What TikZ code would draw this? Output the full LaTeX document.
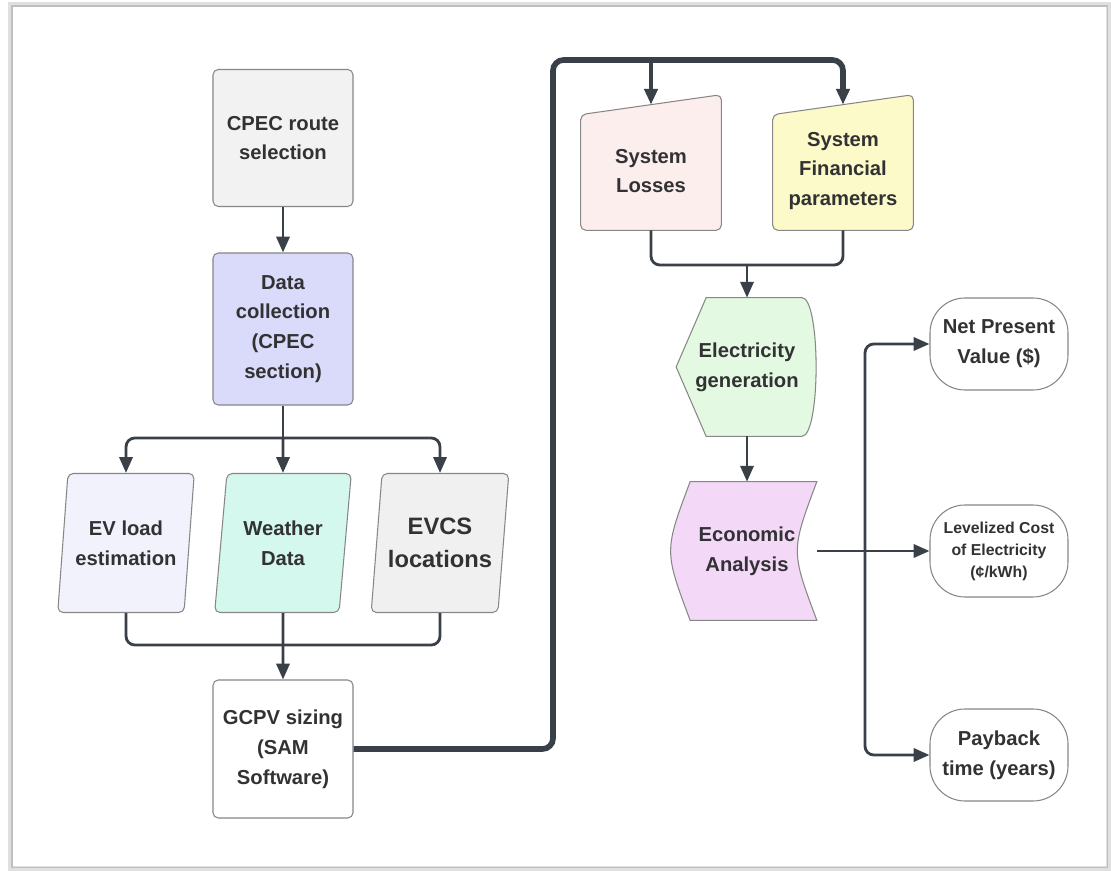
\documentclass[tikz,border=0pt]{standalone}
\usepackage{fontspec}
\setmainfont{Liberation Sans}
\usetikzlibrary{shapes,arrows.meta,positioning,calc,backgrounds}

\definecolor{linegray}{RGB}{58,64,72}
\definecolor{edgegray}{RGB}{135,135,135}
\definecolor{textgray}{RGB}{50,50,52}
\definecolor{routefill}{RGB}{242,242,242}
\definecolor{datafill}{RGB}{218,218,250}
\definecolor{evfill}{RGB}{242,242,253}
\definecolor{weatherfill}{RGB}{212,247,238}
\definecolor{evcsfill}{RGB}{240,240,240}
\definecolor{lossfill}{RGB}{253,238,238}
\definecolor{finfill}{RGB}{252,250,200}
\definecolor{elecfill}{RGB}{228,249,225}
\definecolor{econfill}{RGB}{243,216,247}

\begin{document}
\begin{tikzpicture}[
    block/.style={draw=edgegray, line width=0.6pt, rounded corners=3pt, minimum width=2.8cm, minimum height=2.74cm,
      align=center, text=textgray, font=\fontsize{11.5}{17}\selectfont\bfseries},
    iobox/.style={block, trapezium, trapezium left angle=80, trapezium right angle=100, trapezium stretches=true,
      minimum width=2.74cm, minimum height=2.78cm},
    plainbox/.style={align=center, text=textgray, font=\fontsize{11.5}{17}\selectfont\bfseries, inner sep=0pt},
    outline/.style={draw=edgegray, line width=0.6pt, rounded corners=3pt},
    term/.style={block, rounded corners=0.7cm, fill=white, minimum width=2.76cm, minimum height=1.84cm},
    arrow/.style={draw=linegray, line width=1.6pt, rounded corners=5pt, -{Triangle[length=9pt,width=7.5pt]}},
    link/.style={draw=linegray, line width=1.6pt, rounded corners=5pt}]

        % page and frame
        \useasboundingbox (0,0) rectangle (22.22,-17.42);
        \begin{scope}[on background layer]
            \fill[white] (0,0) rectangle (22.22,-17.42);
        \end{scope}
        \draw[black!12, line width=2.5pt] (0.2,-0.08) rectangle (22.17,-17.37);
        \draw[black!25, line width=0.8pt] (0.24,-0.12) rectangle (22.15,-17.35);

        % left column
        \node [block, fill=routefill] (route) at (5.66,-2.76) {CPEC route\\selection};
        \node [block, fill=datafill, minimum height=3.04cm] (datacol) at (5.66,-6.58) {Data\\collection\\(CPEC\\section)};

        \node [iobox, fill=evfill] (evload) at (2.52,-10.86) {EV load\\estimation};
        \node [iobox, fill=weatherfill] (weather) at (5.66,-10.86) {Weather\\Data};
        \node [iobox, fill=evcsfill, font=\fontsize{13.5}{19}\selectfont\bfseries] (evcs) at (8.80,-10.86) {EVCS\\locations};

        \node [block, fill=white, minimum height=2.76cm] (gcpv) at (5.66,-14.98) {GCPV sizing\\(SAM\\Software)};

        % middle column
        \node [plainbox, minimum width=2.8cm, minimum height=2.36cm] (losses) at (13.02,-3.42) {System\\Losses};
        \node [plainbox, minimum width=2.8cm, minimum height=2.36cm] (finance) at (16.86,-3.42) {System\\Financial\\parameters};
        \node [plainbox, minimum width=2.82cm, minimum height=2.76cm] (elec) at (14.94,-7.34) {Electricity\\generation};
        \node [plainbox, minimum width=2.78cm, minimum height=2.76cm] (econ) at (14.94,-11.02) {Economic\\Analysis};

        \begin{scope}[on background layer]
            \foreach \n/\c in {losses/lossfill, finance/finfill}
                \draw[outline, fill=\c] ([yshift=-0.06cm]\n.north west) -- ([yshift=0.34cm]\n.north east)
                    -- (\n.south east) -- (\n.south west) -- cycle;
            \draw[outline, sharp corners, fill=elecfill] (elec.west) -- ([xshift=0.6cm]elec.north west) -- ([xshift=-0.32cm]elec.north east)
                .. controls ([xshift=0.06cm]elec.north east) and ([xshift=0.06cm]elec.south east) .. ([xshift=-0.32cm]elec.south east)
                -- ([xshift=0.6cm]elec.south west) -- cycle;
            \draw[outline, sharp corners, fill=econfill] ([xshift=0.26cm]econ.north west) -- (econ.north east)
                .. controls ([xshift=-0.52cm]econ.east) .. (econ.south east)
                -- ([xshift=0.26cm]econ.south west)
                .. controls ([xshift=-0.26cm]econ.west) .. ([xshift=0.26cm]econ.north west) -- cycle;
        \end{scope}

        % results
        \node [term] (npv) at (19.98,-6.88) {Net Present\\Value (\$)};
        \node [term, font=\fontsize{9}{12.5}\selectfont\bfseries] (lcoe) at (19.98,-11.02) {Levelized Cost\\of Electricity\\(¢/kWh)};
        \node [term] (payback) at (19.98,-15.1) {Payback\\time (years)};

        % helper points
        \coordinate (split) at (5.66,-8.76);
        \coordinate (merge) at (5.66,-12.9);
        \coordinate (topbend) at (11.06,-1.2);
        \coordinate (lmerge) at (14.94,-5.3);
        \coordinate (fork) at (17.3,-11.02);

        % Arrows
        \draw [arrow] (route) -- (datacol);
        \draw [link] (datacol.south) -- (split);
        \draw [arrow] (split) -| (evload.north);
        \draw [arrow] (split) -- (weather.north);
        \draw [arrow] (split) -| (evcs.north);

        \draw [link] (evload.south) |- (merge);
        \draw [link] (evcs.south) |- (merge);
        \draw [arrow] (weather.south) -- (gcpv.north);

        \draw [arrow, line width=3.2pt, rounded corners=6pt] (gcpv.east) -| (topbend) -| ([yshift=0.14cm]finance.north);
        \draw [arrow, line width=2.4pt] (losses.north |- topbend) -- ([yshift=0.14cm]losses.north);

        \draw [link] (losses.south) |- (lmerge);
        \draw [link] (finance.south) |- (lmerge);
        \draw [arrow] (lmerge) -- (elec.north);
        \draw [arrow] (elec.south) -- (econ.north);

        \draw [arrow] (econ.east) -- (lcoe.west);
        \draw [arrow] (fork) |- (npv.west);
        \draw [arrow] (fork) |- (payback.west);

\end{tikzpicture}
\end{document}
